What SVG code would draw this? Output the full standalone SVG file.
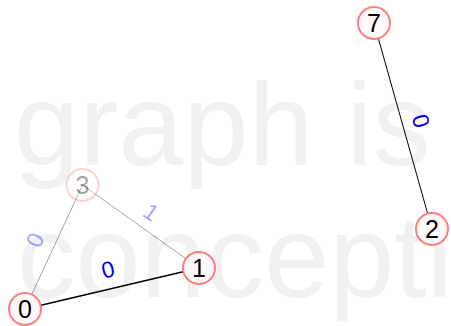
<svg xmlns="http://www.w3.org/2000/svg" width="451" height="326" viewBox="0 0 451 326">
<style>
.bg{font-family:"Liberation Sans",Arial,Helvetica,sans-serif;font-size:117px;fill:#f1f1f1}
.node circle{fill:#fffafa;stroke:#ff7f7f;stroke-width:2}
.node text{font-family:"Liberation Sans",Arial,Helvetica,sans-serif;font-size:25px;fill:#000;text-anchor:middle;dominant-baseline:central}
.edge{stroke:#000;fill:none}
.lbl{font-family:"Liberation Sans",Arial,Helvetica,sans-serif;font-size:23px;fill:#0000ff;text-anchor:middle;dominant-baseline:central}
.faded{opacity:0.35}
</style>
<rect width="451" height="326" fill="#fff"/>
<text class="bg" x="14" y="165" textLength="417" lengthAdjust="spacing">graph is</text>
<text class="bg" x="17" y="297">concepti</text>
<g id="connectors">
<g id="e3-0" class="faded"><line class="edge" x1="82.5" y1="185" x2="25" y2="309" stroke-width="1"/><text class="lbl" transform="translate(35,240) rotate(-65)">0</text></g>
<g id="e3-1" class="faded"><line class="edge" x1="82.5" y1="185" x2="199" y2="268" stroke-width="1"/><text class="lbl" transform="translate(151,212) rotate(35)">1</text></g>
<g id="e0-1"><line class="edge" x1="25" y1="309" x2="199" y2="268" stroke-width="1.5"/><text class="lbl" transform="translate(108,269.5) rotate(-13)">0</text></g>
<g id="e7-2"><line class="edge" x1="374" y1="23" x2="432" y2="229" stroke-width="1"/><text class="lbl" transform="translate(421,121) rotate(74)">0</text></g>
</g>
<g id="n3" class="node faded"><circle cx="82.5" cy="185" r="16"/><text x="82.5" y="185">3</text></g>
<g id="n0" class="node"><circle cx="25" cy="309" r="16"/><text x="25" y="309">0</text></g>
<g id="n1" class="node"><circle cx="199" cy="268" r="16"/><text x="199" y="268">1</text></g>
<g id="n7" class="node"><circle cx="374" cy="23" r="16"/><text x="374" y="23">7</text></g>
<g id="n2" class="node"><circle cx="432" cy="229" r="16"/><text x="432" y="229">2</text></g>
</svg>
